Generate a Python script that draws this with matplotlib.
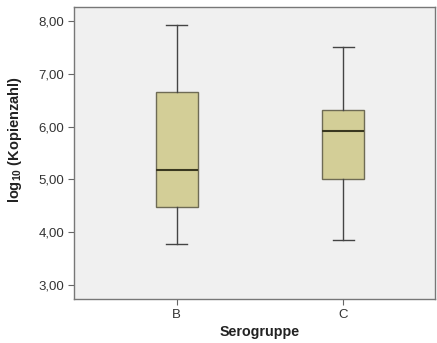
import matplotlib
matplotlib.use('Agg')
import matplotlib.pyplot as plt

plt.rcParams['font.family'] = ['Liberation Sans', 'DejaVu Sans']
plt.rcParams['mathtext.fontset'] = 'custom'
plt.rcParams['mathtext.bf'] = 'Liberation Sans:bold'

# data (log10 copy number per serogroup)
groups = ['B', 'C']
whislo = [3.78, 3.84]
q1 = [4.48, 5.01]
med = [5.18, 5.91]
q3 = [6.66, 6.32]
whishi = [7.92, 7.52]
yticks = [3, 4, 5, 6, 7, 8]

stats = [{'label': g, 'whislo': lo, 'q1': a, 'med': m, 'q3': b, 'whishi': hi, 'fliers': []}
         for g, lo, a, m, b, hi in zip(groups, whislo, q1, med, q3, whishi)]

fig = plt.figure(figsize=(4.37, 3.43), dpi=100)
ax = fig.add_axes([74/437, 1 - 299/343, 361/437, 292/343])
ax.set_facecolor('#f0f0f0')

ax.bxp(stats, positions=[1, 2], widths=0.252, patch_artist=True, showfliers=False,
       boxprops=dict(facecolor='#d3ce97', edgecolor='#6e6b55', linewidth=1.0),
       medianprops=dict(color='#3a3820', linewidth=1.5),
       whiskerprops=dict(color='#444444', linewidth=1.0),
       capprops=dict(color='#444444', linewidth=1.0),
       capwidths=0.126)

ax.set_xlim(0.385, 2.55)
ax.set_ylim(2.73, 8.27)
ax.set_yticks(yticks)
ax.set_yticklabels(['%d,00' % v for v in yticks], fontsize=9.5, color='#333333')
ax.set_xticks([1, 2])
ax.set_xticklabels(groups, fontsize=9.5, color='#333333')
ax.tick_params(length=4, width=0.8, color='#666666', pad=3)
for s in ax.spines.values():
    s.set_color('#777777')
    s.set_linewidth(1.0)

fig.text(15/437, 1 - 140/343, r'log$_{\mathbf{10}}$ (Kopienzahl)', rotation=90, fontsize=10.5,
         fontweight='bold', ha='center', va='center', color='#222222')
fig.text(260/437, 1 - 332/343, 'Serogruppe', fontsize=10.3, fontweight='bold',
         ha='center', va='center', color='#222222')

fig.savefig('out.png', dpi=100)
